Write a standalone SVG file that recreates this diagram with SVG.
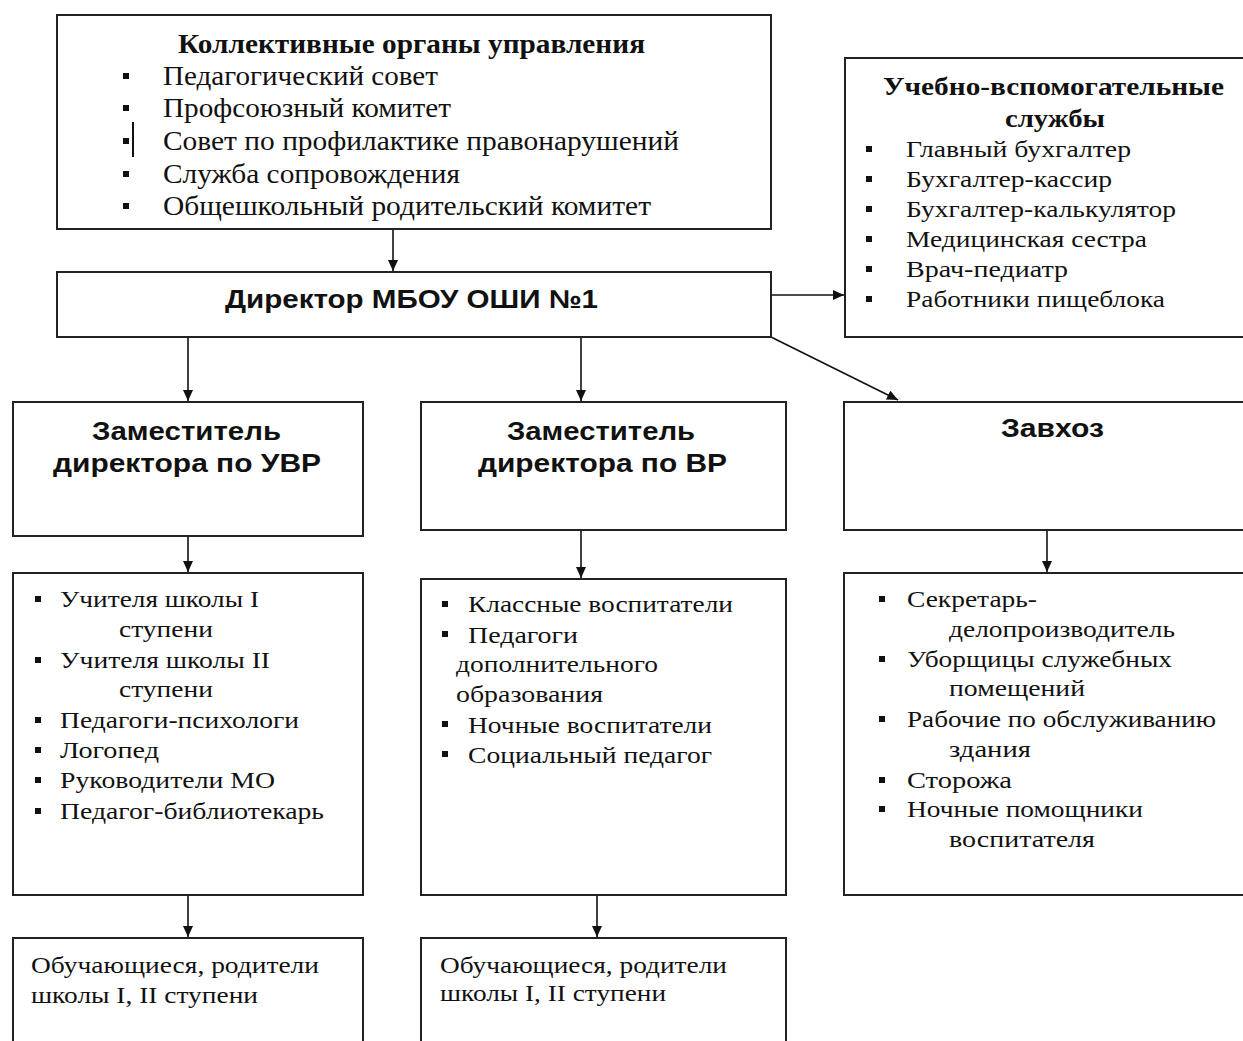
<svg xmlns="http://www.w3.org/2000/svg" width="1243" height="1041" viewBox="0 0 1243 1041">
<style>
.box{fill:#fff;stroke:#222;stroke-width:2}
.ser{font-family:"Liberation Serif","Times New Roman",serif;fill:#111}
.serb{font-family:"Liberation Serif","Times New Roman",serif;font-weight:bold;fill:#111}
.sans{font-family:"Liberation Sans",Arial,sans-serif;font-weight:bold;fill:#111}
.t28{font-size:28px}
.t23{font-size:23px}
.bul{fill:#111}
.con{stroke:#111;stroke-width:1.6;fill:none}
</style>
<defs>
<marker id="ah" markerUnits="userSpaceOnUse" markerWidth="12" markerHeight="12" refX="11" refY="5" orient="auto">
<path d="M0,0 L11,5 L0,10 Z" fill="#111"/>
</marker>
</defs>
<rect width="1243" height="1041" fill="#fff"/>

<g id="connectors">
<line class="con" x1="393" y1="229" x2="393" y2="271" marker-end="url(#ah)"/>
<line class="con" x1="771" y1="295" x2="844" y2="295" marker-end="url(#ah)"/>
<line class="con" x1="771" y1="337" x2="898" y2="400" marker-end="url(#ah)"/>
<line class="con" x1="188" y1="337" x2="188" y2="401" marker-end="url(#ah)"/>
<line class="con" x1="581" y1="337" x2="581" y2="401" marker-end="url(#ah)"/>
<line class="con" x1="188" y1="536" x2="188" y2="572" marker-end="url(#ah)"/>
<line class="con" x1="581" y1="530" x2="581" y2="578" marker-end="url(#ah)"/>
<line class="con" x1="1047" y1="530" x2="1047" y2="572" marker-end="url(#ah)"/>
<line class="con" x1="188" y1="895" x2="188" y2="937" marker-end="url(#ah)"/>
<line class="con" x1="597" y1="895" x2="597" y2="937" marker-end="url(#ah)"/>
</g>

<g id="collective">
<rect class="box" x="57" y="15" width="714" height="214"/>
<text class="serb" x="178" y="53" font-size="27" textLength="467" lengthAdjust="spacingAndGlyphs">Коллективные органы управления</text>
<rect class="bul" x="123" y="73" width="6" height="6"/>
<rect class="bul" x="123" y="105" width="6" height="6"/>
<rect class="bul" x="123" y="138" width="6" height="6"/>
<rect class="bul" x="123" y="171" width="6" height="6"/>
<rect class="bul" x="123" y="203" width="6" height="6"/>
<line x1="133" y1="122" x2="133" y2="157" stroke="#111" stroke-width="2"/>
<text class="ser t28" x="163" y="85" textLength="275" lengthAdjust="spacingAndGlyphs">Педагогический совет</text>
<text class="ser t28" x="163" y="117" textLength="288" lengthAdjust="spacingAndGlyphs">Профсоюзный комитет</text>
<text class="ser t28" x="163" y="150" textLength="516" lengthAdjust="spacingAndGlyphs">Совет по профилактике правонарушений</text>
<text class="ser t28" x="163" y="183" textLength="297" lengthAdjust="spacingAndGlyphs">Служба сопровождения</text>
<text class="ser t28" x="163" y="215" textLength="488" lengthAdjust="spacingAndGlyphs">Общешкольный родительский комитет</text>
</g>

<g id="director">
<rect class="box" x="57" y="272" width="714" height="65"/>
<text class="sans" x="225" y="308" font-size="26" textLength="373" lengthAdjust="spacingAndGlyphs">Директор МБОУ ОШИ №1</text>
</g>

<g id="support">
<rect class="box" x="845" y="58" width="410" height="279"/>
<text class="serb" x="883" y="95" font-size="25" textLength="341" lengthAdjust="spacingAndGlyphs">Учебно-вспомогательные</text>
<text class="serb" x="1005" y="127" font-size="25" textLength="100" lengthAdjust="spacingAndGlyphs">службы</text>
<rect class="bul" x="866" y="146" width="6" height="6"/>
<rect class="bul" x="866" y="176" width="6" height="6"/>
<rect class="bul" x="866" y="206" width="6" height="6"/>
<rect class="bul" x="866" y="236" width="6" height="6"/>
<rect class="bul" x="866" y="266" width="6" height="6"/>
<rect class="bul" x="866" y="296" width="6" height="6"/>
<text class="ser t23" x="906" y="157" textLength="225" lengthAdjust="spacingAndGlyphs">Главный бухгалтер</text>
<text class="ser t23" x="906" y="187" textLength="206" lengthAdjust="spacingAndGlyphs">Бухгалтер-кассир</text>
<text class="ser t23" x="906" y="217" textLength="270" lengthAdjust="spacingAndGlyphs">Бухгалтер-калькулятор</text>
<text class="ser t23" x="906" y="247" textLength="241" lengthAdjust="spacingAndGlyphs">Медицинская сестра</text>
<text class="ser t23" x="906" y="277" textLength="162" lengthAdjust="spacingAndGlyphs">Врач-педиатр</text>
<text class="ser t23" x="906" y="307" textLength="259" lengthAdjust="spacingAndGlyphs">Работники пищеблока</text>
</g>

<g id="deputy-uvr">
<rect class="box" x="13" y="402" width="350" height="134"/>
<text class="sans" x="92" y="440" font-size="25" textLength="189" lengthAdjust="spacingAndGlyphs">Заместитель</text>
<text class="sans" x="53" y="472" font-size="25" textLength="268" lengthAdjust="spacingAndGlyphs">директора по УВР</text>
</g>

<g id="deputy-vr">
<rect class="box" x="421" y="402" width="365" height="128"/>
<text class="sans" x="507" y="440" font-size="25" textLength="188" lengthAdjust="spacingAndGlyphs">Заместитель</text>
<text class="sans" x="478" y="472" font-size="25" textLength="249" lengthAdjust="spacingAndGlyphs">директора по ВР</text>
</g>

<g id="zavhoz">
<rect class="box" x="844" y="402" width="410" height="128"/>
<text class="sans" x="1001" y="437" font-size="25" textLength="103" lengthAdjust="spacingAndGlyphs">Завхоз</text>
</g>

<g id="uvr-staff">
<rect class="box" x="13" y="573" width="350" height="322"/>
<rect class="bul" x="35" y="596" width="6" height="6"/>
<rect class="bul" x="35" y="657" width="6" height="6"/>
<rect class="bul" x="35" y="717" width="6" height="6"/>
<rect class="bul" x="35" y="747" width="6" height="6"/>
<rect class="bul" x="35" y="777" width="6" height="6"/>
<rect class="bul" x="35" y="808" width="6" height="6"/>
<text class="ser t23" x="60" y="607" textLength="199" lengthAdjust="spacingAndGlyphs">Учителя школы I</text>
<text class="ser t23" x="119" y="637" textLength="94" lengthAdjust="spacingAndGlyphs">ступени</text>
<text class="ser t23" x="60" y="668" textLength="210" lengthAdjust="spacingAndGlyphs">Учителя школы II</text>
<text class="ser t23" x="119" y="697" textLength="94" lengthAdjust="spacingAndGlyphs">ступени</text>
<text class="ser t23" x="60" y="728" textLength="239" lengthAdjust="spacingAndGlyphs">Педагоги-психологи</text>
<text class="ser t23" x="60" y="758" textLength="99" lengthAdjust="spacingAndGlyphs">Логопед</text>
<text class="ser t23" x="60" y="788" textLength="215" lengthAdjust="spacingAndGlyphs">Руководители МО</text>
<text class="ser t23" x="60" y="819" textLength="264" lengthAdjust="spacingAndGlyphs">Педагог-библиотекарь</text>
</g>

<g id="vr-staff">
<rect class="box" x="421" y="579" width="365" height="316"/>
<rect class="bul" x="442" y="601" width="6" height="6"/>
<rect class="bul" x="442" y="631" width="6" height="6"/>
<rect class="bul" x="442" y="721" width="6" height="6"/>
<rect class="bul" x="442" y="751" width="6" height="6"/>
<text class="ser t23" x="468" y="612" textLength="265" lengthAdjust="spacingAndGlyphs">Классные воспитатели</text>
<text class="ser t23" x="468" y="643" textLength="110" lengthAdjust="spacingAndGlyphs">Педагоги</text>
<text class="ser t23" x="456" y="672" textLength="202" lengthAdjust="spacingAndGlyphs">дополнительного</text>
<text class="ser t23" x="456" y="702" textLength="147" lengthAdjust="spacingAndGlyphs">образования</text>
<text class="ser t23" x="468" y="733" textLength="244" lengthAdjust="spacingAndGlyphs">Ночные воспитатели</text>
<text class="ser t23" x="468" y="763" textLength="244" lengthAdjust="spacingAndGlyphs">Социальный педагог</text>
</g>

<g id="zavhoz-staff">
<rect class="box" x="844" y="573" width="410" height="322"/>
<rect class="bul" x="879" y="596" width="6" height="6"/>
<rect class="bul" x="879" y="656" width="6" height="6"/>
<rect class="bul" x="879" y="716" width="6" height="6"/>
<rect class="bul" x="879" y="777" width="6" height="6"/>
<rect class="bul" x="879" y="806" width="6" height="6"/>
<text class="ser t23" x="907" y="607" textLength="130" lengthAdjust="spacingAndGlyphs">Секретарь-</text>
<text class="ser t23" x="949" y="637" textLength="226" lengthAdjust="spacingAndGlyphs">делопроизводитель</text>
<text class="ser t23" x="907" y="667" textLength="265" lengthAdjust="spacingAndGlyphs">Уборщицы служебных</text>
<text class="ser t23" x="949" y="696" textLength="136" lengthAdjust="spacingAndGlyphs">помещений</text>
<text class="ser t23" x="907" y="727" textLength="309" lengthAdjust="spacingAndGlyphs">Рабочие по обслуживанию</text>
<text class="ser t23" x="949" y="757" textLength="82" lengthAdjust="spacingAndGlyphs">здания</text>
<text class="ser t23" x="907" y="788" textLength="105" lengthAdjust="spacingAndGlyphs">Сторожа</text>
<text class="ser t23" x="907" y="817" textLength="236" lengthAdjust="spacingAndGlyphs">Ночные помощники</text>
<text class="ser t23" x="949" y="847" textLength="146" lengthAdjust="spacingAndGlyphs">воспитателя</text>
</g>

<g id="students-1">
<rect class="box" x="13" y="938" width="350" height="120"/>
<text class="ser t23" x="31" y="973" textLength="288" lengthAdjust="spacingAndGlyphs">Обучающиеся, родители</text>
<text class="ser t23" x="31" y="1003" textLength="227" lengthAdjust="spacingAndGlyphs">школы I, II ступени</text>
</g>

<g id="students-2">
<rect class="box" x="421" y="938" width="365" height="120"/>
<text class="ser t23" x="440" y="973" textLength="287" lengthAdjust="spacingAndGlyphs">Обучающиеся, родители</text>
<text class="ser t23" x="440" y="1001" textLength="226" lengthAdjust="spacingAndGlyphs">школы I, II ступени</text>
</g>
</svg>
